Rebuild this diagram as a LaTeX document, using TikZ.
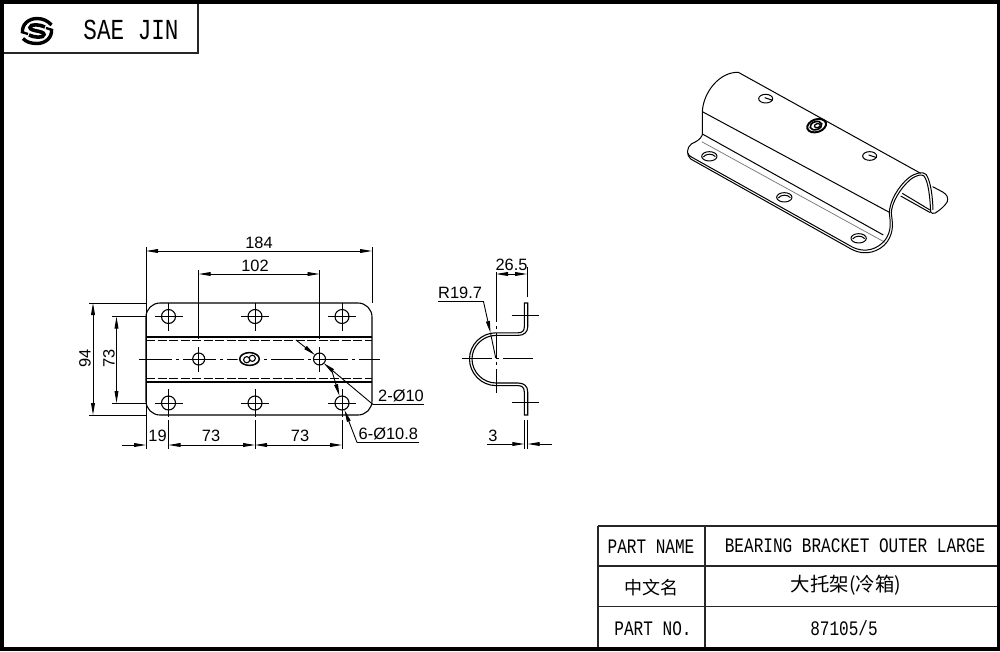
\documentclass[tikz,border=0pt]{standalone}
\usepackage{fontspec}
\usetikzlibrary{arrows.meta}
\setmainfont{Liberation Sans}
\newfontfamily\cadfont[FakeStretch=0.78]{Liberation Mono}
\newfontfamily\cjkfont{Noto Sans CJK SC}
\tikzset{
  part/.style={line width=1.1pt,black},
  isoline/.style={line width=1pt,black,line join=round},
  dimline/.style={line width=0.9pt,black},
  dimarrow/.style={line width=0.9pt,black,-{Triangle[length=12pt,width=3.8pt]}},
  centerline/.style={line width=0.9pt,black,dash pattern=on 33pt off 4pt on 3pt off 4pt},
  hidden/.style={line width=0.9pt,black,dash pattern=on 9pt off 2.5pt},
  dimtext/.style={font=\fontsize{16.4}{16}\selectfont,inner sep=0pt},
  cadtext/.style={font=\cadfont\fontsize{20.6}{20}\selectfont,inner sep=0pt},
  cjktext/.style={font=\cjkfont\fontsize{18}{18}\selectfont,inner sep=0pt},
  tableline/.style={line width=1.4pt,black!85},
}
\begin{document}
\begin{tikzpicture}[x=1pt,y=-1pt]
\useasboundingbox (0,0) rectangle (1000,651);
% sheet frame
\fill[black] (0,0) rectangle (1000,651);
\fill[white] (4,4) rectangle (997,647);
% title block
\draw[tableline] (4,53) -- (198,53) -- (198,4);
\begin{scope}[shift={(37,31)}]
  \draw[line width=3.4pt] (-14.5,2) .. controls (-15.5,-7) and (-8,-12.5) .. (0,-12.5) .. controls (6,-12.5) and (11,-10) .. (14.5,-6);
  \draw[line width=3.4pt] (14.5,-2) .. controls (15.5,7) and (8,12.5) .. (0,12.5) .. controls (-6,12.5) and (-11,11) .. (-14,7.5);
  \draw[line width=2.4pt] (-16,0.8) -- (-9,3);
  \draw[line width=2.4pt] (16,-0.8) -- (9,-3);
  \draw[line width=3.6pt] (8,-4) .. controls (3,-6.5) and (-7,-7.5) .. (-7,-3.5) .. controls (-7,0.5) and (7,-0.5) .. (7,3.5) .. controls (7,7.5) and (-3,6.5) .. (-8,4);
\end{scope}
\node[cadtext,font=\cadfont\fontsize{29}{29}\selectfont] (brand) at (131,30) {SAE JIN};

% ---------- front view ----------
\draw[part,rounded corners=14pt] (146,303) rectangle (372,415);
\draw[part] (146,337) -- (372,337);
\draw[part] (146,382) -- (372,382);
\draw[hidden] (146,340.5) -- (372,340.5);
\draw[hidden] (146,378.5) -- (372,378.5);
\foreach \hx in {168.5,255,342}{
  \foreach \hy in {316.5,403}{
    \draw[part] (\hx,\hy) circle [radius=7];
    \draw[dimline] (\hx-14,\hy) -- (\hx+14,\hy);
    \draw[dimline] (\hx,\hy-14) -- (\hx,\hy+14);
  }
}
\draw[centerline] (139,359) -- (380,359);
\foreach \hx in {198.7,319.5}{
  \fill[white] (\hx,359) circle [radius=6];
  \draw[part] (\hx,359) circle [radius=6];
  \draw[dimline] (\hx-6,359) -- (\hx+6,359);
  \draw[dimline] (\hx,347) -- (\hx,372);
}
\fill[white] (249.5,359) ellipse [x radius=12,y radius=8];
\draw[line width=1.5pt] (249.5,359) ellipse [x radius=9.8,y radius=6.4];
\draw[line width=1.1pt] (246.7,359.7) circle [radius=3.1];
\draw[line width=1.1pt] (252.3,358.3) circle [radius=3.1];
% dimensions over the plate
\draw[dimline] (146,247) -- (146,449);
\draw[dimline] (372,247) -- (372,303);
\coordinate (d184a) at (146,251);
\coordinate (d184b) at (372,251);
\draw[dimarrow] (259,251) -- (d184a);
\draw[dimarrow] (259,251) -- (d184b);
\node[dimtext] (t184) at (259,243) {184};
\draw[dimline] (198.7,270) -- (198.7,339);
\draw[dimline] (319.5,270) -- (319.5,339);
\coordinate (d102a) at (198.7,274);
\coordinate (d102b) at (319.5,274);
\draw[dimarrow] (259,274) -- (d102a);
\draw[dimarrow] (259,274) -- (d102b);
\node[dimtext] (t102) at (255,266) {102};
% vertical dimensions
\draw[dimline] (89,303) -- (146,303);
\draw[dimline] (89,415) -- (146,415);
\coordinate (d94a) at (93,303);
\coordinate (d94b) at (93,415);
\draw[dimarrow] (93,359) -- (d94a);
\draw[dimarrow] (93,359) -- (d94b);
\node[dimtext,rotate=90] (t94) at (85,358) {94};
\draw[dimline] (112,316.5) -- (146,316.5);
\draw[dimline] (112,403) -- (146,403);
\coordinate (d73a) at (116.5,316.5);
\coordinate (d73b) at (116.5,403);
\draw[dimarrow] (116.5,359) -- (d73a);
\draw[dimarrow] (116.5,359) -- (d73b);
\node[dimtext,rotate=90] (t73v) at (109,358) {73};
% bottom dimensions
\draw[dimline] (168.5,420) -- (168.5,449);
\draw[dimline] (255,420) -- (255,449);
\draw[dimline] (342,420) -- (342,449);
\coordinate (b0) at (146,445);
\coordinate (b1) at (168.5,445);
\coordinate (b2) at (255,445);
\coordinate (b3) at (342,445);
\draw[dimarrow] (122,445) -- (b0);
\draw[dimarrow] (212,445) -- (b1);
\draw[dimarrow] (212,445) -- (b2);
\draw[dimarrow] (298,445) -- (b2);
\draw[dimarrow] (298,445) -- (b3);
\node[dimtext] (t19) at (157.5,436) {19};
\node[dimtext] (t73a) at (211,436) {73};
\node[dimtext] (t73b) at (300,436) {73};
% hole callouts
\node[dimtext,anchor=west] (t2d) at (378,396) {2-Ø10};
\node[dimtext,anchor=west] (t6d) at (358.5,434) {6-Ø10.8};
\coordinate (u2a) at (373,404.5);
\coordinate (u2b) at (424,404.5);
\coordinate (u6a) at (357,442.5);
\coordinate (u6b) at (419,442.5);
\coordinate (lead2) at (296,340);
\coordinate (tip2a) at (315,355);
\coordinate (tip2b) at (323.5,363);
\coordinate (tip6a) at (339.5,396);
\coordinate (tip6b) at (344.5,410);
\coordinate (start6) at (331,368);
\draw[dimline] (u2b) -- (u2a);
\draw[dimarrow] (lead2) -- (tip2a);
\draw[dimarrow] (u2a) -- (tip2b);
\draw[dimline] (u6b) -- (u6a);
\draw[dimarrow] (u6a) -- (tip6b);
\draw[dimarrow] (start6) -- (tip6a);

% ---------- side view ----------
\draw[part] (526,303) -- (524.3,303) -- (524.3,327) .. controls (524.3,331) and (522,332.8) .. (518,332.8) -- (496,332.8)
  .. controls (481,332.8) and (469.5,345) .. (469.5,359) .. controls (469.5,373) and (481,385.6) .. (496,385.6)
  -- (518,385.6) .. controls (522,385.6) and (524.3,387.5) .. (524.3,392) -- (524.3,415) -- (527.7,415) -- (527.7,392)
  .. controls (527.7,386) and (524,383) .. (518,383) -- (496,383)
  .. controls (483,383) and (472,372) .. (472,359) .. controls (472,346) and (483,335.4) .. (496,335.4)
  -- (518,335.4) .. controls (524,335.4) and (527.7,332) .. (527.7,327) -- (527.7,303) -- cycle;
\draw[dimline] (511.5,315.7) -- (539,315.7);
\draw[dimline] (511.5,402.7) -- (539,402.7);
\draw[dimline,dash pattern=on 30pt off 4pt on 3pt off 4pt] (462,358.7) -- (535,358.7);
\draw[dimline,dash pattern=on 50pt off 4pt on 3pt off 4pt on 25pt off 4pt on 3pt off 4pt] (496,272) -- (496,393);
\draw[dimline] (527,267) -- (527,297);
\coordinate (s1) at (496,274);
\coordinate (s2) at (527,274);
\draw[dimarrow] (511.5,274) -- (s1);
\draw[dimarrow] (511.5,274) -- (s2);
\node[dimtext] (t265) at (511.5,265) {26.5};
\node[dimtext,anchor=west] (tr) at (438,293) {R19.7};
\coordinate (r1) at (438,301.7);
\coordinate (r2) at (483.5,301.7);
\coordinate (r3) at (490.5,333);
\coordinate (r4) at (495.7,358);
\draw[dimline] (r1) -- (r2);
\draw[dimarrow] (r2) -- (r3);
\draw[dimline] (r3) -- (r4);
\draw[dimline] (524.3,420) -- (524.3,449);
\draw[dimline] (527.7,420) -- (527.7,449);
\coordinate (w1) at (524.3,444);
\coordinate (w2) at (527.7,444);
\coordinate (w0) at (487,444);
\coordinate (w3) at (552,444);
\draw[dimarrow] (w0) -- (w1);
\draw[dimarrow] (w3) -- (w2);
\node[dimtext] (t3) at (493,436) {3};

% ---------- isometric view (coordinates of a 3x crop at 670,60) ----------
\begin{scope}[shift={(670,60)},x=0.3333pt,y=-0.3333pt]
  % dome outline and ridge
  \draw[isoline] (97,225) -- (97,155) .. controls (100,95) and (150,35) .. (205,37) -- (752,340);
  % bend lines
  \draw[isoline] (97,155) -- (660,458);
  \draw[isoline] (97,222) -- (640,525);
  \draw[line width=0.7pt,black!55] (95,245) -- (645,547);
  % flange outer edge, near end and arch (lower edge)
  \draw[isoline] (97,225) .. controls (90,240) and (78,245) .. (64,252) .. controls (50,262) and (48,285) .. (62,297)
     -- (545,568) .. controls (585,590) and (630,575) .. (652,545)
     .. controls (672,515) and (668,490) .. (664,460) .. controls (664,430) and (690,385) .. (722,358)
     .. controls (740,345) and (755,342) .. (762,348) .. controls (775,365) and (780,410) .. (782,455)
     .. controls (783,460) and (790,462) .. (796,459) .. controls (810,450) and (825,438) .. (832,425)
     .. controls (836,412) and (830,403) .. (818,396) -- (788,380);
  % flange upper edge and arch (upper edge)
  \draw[isoline] (54,280) .. controls (54,284) and (58,288) .. (66,292) -- (545,560)
     .. controls (585,582) and (625,567) .. (647,538)
     .. controls (664,512) and (662,490) .. (658,460) .. controls (658,425) and (685,378) .. (718,352)
     .. controls (738,338) and (758,334) .. (768,343) .. controls (782,362) and (788,410) .. (789,450);
  % far flange
  \draw[isoline] (697,400) -- (780,450);
  \draw[isoline] (692,408) -- (781,458);
  % flange holes
  \foreach \hx/\hy in {118/289,343/412,566/535}{
    \draw[isoline] (\hx,\hy) ellipse [x radius=23,y radius=14];
    \draw[isoline] (\hx-18,\hy+2) .. controls (\hx-10,\hy-9) and (\hx+10,\hy-9) .. (\hx+18,\hy+1);
  }
  % slots on top
  \foreach \hx/\hy in {287/116,599/288}{
    \draw[isoline] (\hx,\hy) ellipse [x radius=21,y radius=13];
    \draw[isoline] (\hx-3,\hy-3) -- (\hx+21,\hy+5);
  }
  % logo
  \draw[line width=2pt] (440,197) ellipse [x radius=29,y radius=19,rotate=18];
  \draw[line width=1.6pt] (438,197) ellipse [x radius=18,y radius=12,rotate=18];
  \draw[line width=1.3pt] (442,197) ellipse [x radius=9,y radius=6,rotate=18];
\end{scope}

% ---------- table ----------
\draw[tableline] (598,526) -- (997,526);
\draw[tableline] (598,566) -- (997,566);
\draw[tableline] (598,606.7) -- (997,606.7);
\draw[tableline] (598,526) -- (598,647);
\draw[tableline] (705,526) -- (705,647);
\node[cadtext] (c1) at (651,547) {PART NAME};
\node[cadtext] (c2) at (855,546) {BEARING BRACKET OUTER LARGE};
\node[cjktext] (c3) at (651.5,587.5) {中文名};
\node[cjktext,font=\cjkfont\fontsize{19.4}{19}\selectfont] (c4) at (846,585) {大托架(冷箱)};
\node[cadtext] (c5) at (653,629) {PART NO.};
\node[cadtext] (c6) at (844,628) {87105/5};
\end{tikzpicture}
\end{document}
